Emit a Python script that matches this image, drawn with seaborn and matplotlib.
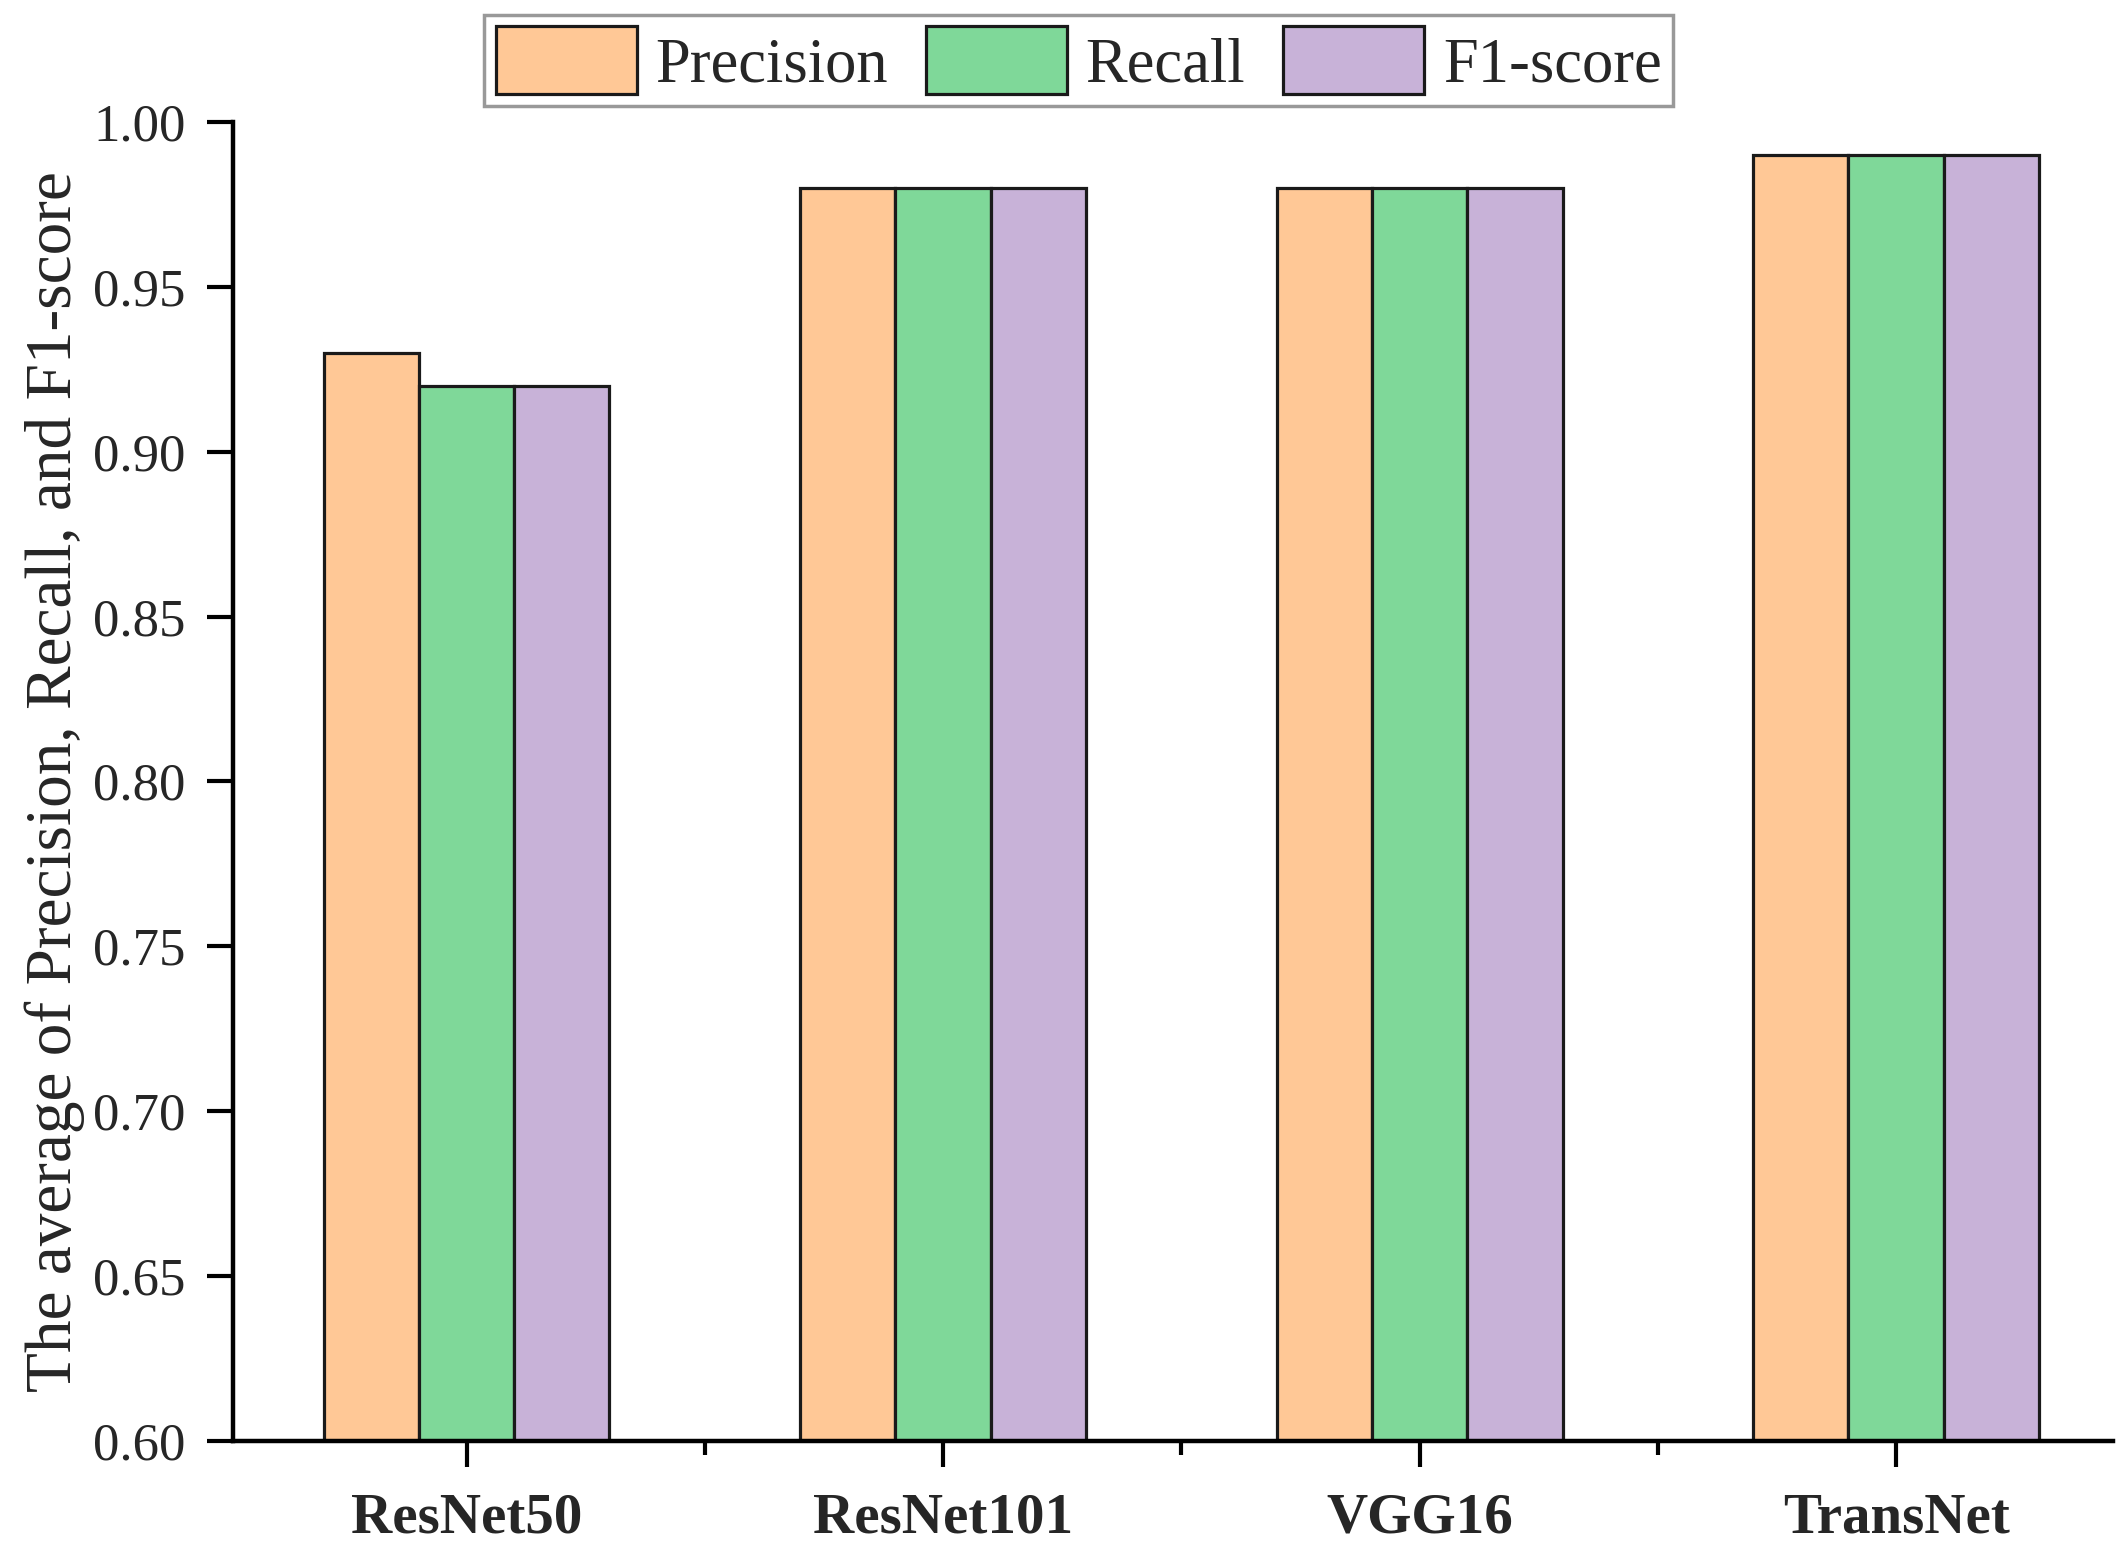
import pandas as pd
import matplotlib
matplotlib.use("Agg")
import matplotlib.pyplot as plt
from matplotlib.ticker import FixedLocator, MultipleLocator
import seaborn as sns

# Donnees
models = ["ResNet50", "ResNet101", "VGG16", "TransNet"]
metrics = ["Precision", "Recall", "F1-score"]
precision = [0.93, 0.98, 0.98, 0.99]
recall = [0.92, 0.98, 0.98, 0.99]
f1_score = [0.92, 0.98, 0.98, 0.99]
colors = ["#FFC896", "#7FD899", "#C8B2D8"]

df = pd.DataFrame({
    "model": models * 3,
    "metric": [m for m in metrics for _ in models],
    "value": precision + recall + f1_score,
})

sns.set_style("ticks")
plt.rcParams["font.family"] = ["Liberation Serif", "DejaVu Serif"]

fig, ax = plt.subplots(figsize=(21.24, 15.6), dpi=100)
fig.subplots_adjust(left=0.1097, right=0.9948, bottom=0.0763, top=0.9218)

sns.barplot(data=df, x="model", y="value", hue="metric", order=models,
            hue_order=metrics, palette=colors, width=0.6, gap=0,
            edgecolor="#1a1a1a", linewidth=2.3, saturation=1, ax=ax)

ax.set_ylim(0.60, 1.00)
ax.set_xlim(-0.49, 3.455)
ax.yaxis.set_major_locator(MultipleLocator(0.05))
ax.yaxis.set_major_formatter(matplotlib.ticker.FormatStrFormatter("%.2f"))
ax.xaxis.set_minor_locator(FixedLocator([0.5, 1.5, 2.5]))

sns.despine(ax=ax)
for s in ["left", "bottom"]:
    ax.spines[s].set_linewidth(3.2)
    ax.spines[s].set_color("black")

ax.tick_params(axis="both", which="major", direction="out", length=19, width=3, color="black")
ax.tick_params(axis="x", which="minor", direction="out", length=10, width=3, color="black")
ax.tick_params(axis="y", labelsize=38, pad=15)
ax.tick_params(axis="x", labelsize=41, pad=18)
for lab in ax.get_xticklabels():
    lab.set_fontweight("bold")

ax.set_xlabel("")
ax.set_ylabel("The average of Precision, Recall, and F1-score", fontsize=47, labelpad=6)

if ax.legend_ is not None:
    ax.legend_.remove()
handles, labels = ax.get_legend_handles_labels()
leg = ax.legend(handles, labels, loc="upper center", bbox_to_anchor=(0.5078, 0.9904),
                bbox_transform=fig.transFigure, ncol=3, fontsize=45, frameon=True,
                fancybox=False, edgecolor="#999999", framealpha=1,
                handlelength=2.26, handleheight=1.3, handletextpad=0.3,
                columnspacing=0.6, borderpad=0.18, borderaxespad=0)
leg.get_frame().set_linewidth(2.5)

fig.savefig("out.png", dpi=100)
